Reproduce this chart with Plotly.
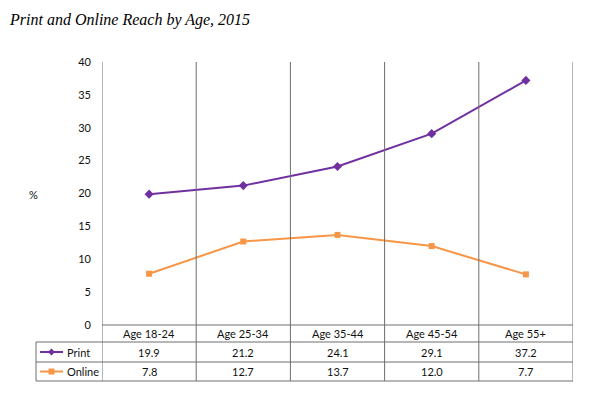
import plotly.graph_objects as go

categories = ["Age 18-24", "Age 25-34", "Age 35-44", "Age 45-54", "Age 55+"]
print_vals = [19.9, 21.2, 24.1, 29.1, 37.2]
online_vals = [7.8, 12.7, 13.7, 12.0, 7.7]
print_labels = ["19.9", "21.2", "24.1", "29.1", "37.2"]
online_labels = ["7.8", "12.7", "13.7", "12.0", "7.7"]
y_ticks = [0, 5, 10, 15, 20, 25, 30, 35, 40]

PURPLE = "#7030A0"
ORANGE = "#F79646"
GRID = "#6e6e6e"
TXT = "#111111"
FONT = "Lato"

xs = list(range(len(categories)))

fig = go.Figure()
fig.add_trace(go.Scatter(x=xs, y=print_vals, mode="lines+markers", name="Print",
                         line=dict(color=PURPLE, width=2),
                         marker=dict(symbol="diamond", size=7, color=PURPLE)))
fig.add_trace(go.Scatter(x=xs, y=online_vals, mode="lines+markers", name="Online",
                         line=dict(color=ORANGE, width=2),
                         marker=dict(symbol="square", size=6, color=ORANGE)))

# plot area: x 102..573 px, y 62..325 px
L, R, T, B = 102, 573, 62, 325
H = B - T
W = R - L

def py(p):
    return (B - p) / H

def px(p):
    return (p - L) / W

shapes = []
for k in range(len(categories) + 1):
    xv = k - 0.5
    shapes.append(dict(type="line", xref="x", yref="paper", x0=xv, x1=xv,
                       y0=py(381), y1=1, line=dict(color=GRID, width=1)))
shapes.append(dict(type="line", xref="paper", yref="paper", x0=0, x1=1,
                   y0=0, y1=0, line=dict(color=GRID, width=1)))
for yy in [342, 362, 381]:
    shapes.append(dict(type="line", xref="paper", yref="paper", x0=px(36), x1=1,
                       y0=py(yy), y1=py(yy), line=dict(color=GRID, width=1)))
shapes.append(dict(type="line", xref="paper", yref="paper", x0=px(36), x1=px(36),
                   y0=py(342), y1=py(381), line=dict(color=GRID, width=1)))

def key(yc, color, sym):
    out = [dict(type="line", xref="paper", yref="paper", x0=px(40), x1=px(63),
                y0=py(yc), y1=py(yc), line=dict(color=color, width=2))]
    cx = 51.5
    if sym == "diamond":
        s = 3.5
        pts = [(cx - s, yc), (cx, yc - s), (cx + s, yc), (cx, yc + s)]
    else:
        s = 3
        pts = [(cx - s, yc - s), (cx + s, yc - s), (cx + s, yc + s), (cx - s, yc + s)]
    path = "M " + " L ".join(f"{px(a):.5f},{py(b):.5f}" for a, b in pts) + " Z"
    out.append(dict(type="path", xref="paper", yref="paper", path=path,
                    fillcolor=color, line=dict(color=color, width=0)))
    return out

shapes += key(352, PURPLE, "diamond")
shapes += key(371.5, ORANGE, "square")

tf = dict(family=FONT, size=11, color=TXT)
annotations = []
for i, c in enumerate(categories):
    annotations.append(dict(x=i, y=py(333.5), xref="x", yref="paper", text=c,
                            xanchor="center", yanchor="middle", showarrow=False, font=tf))
    annotations.append(dict(x=i, y=py(352), xref="x", yref="paper", text=print_labels[i],
                            xanchor="center", yanchor="middle", showarrow=False, font=tf))
    annotations.append(dict(x=i, y=py(371.5), xref="x", yref="paper", text=online_labels[i],
                            xanchor="center", yanchor="middle", showarrow=False, font=tf))
annotations.append(dict(x=px(65), y=py(352), xref="paper", yref="paper", text="Print",
                        xanchor="left", yanchor="middle", showarrow=False, font=tf))
annotations.append(dict(x=px(65), y=py(371.5), xref="paper", yref="paper", text="Online",
                        xanchor="left", yanchor="middle", showarrow=False, font=tf))
annotations.append(dict(x=px(33), y=py(194), xref="paper", yref="paper", text="%",
                        xanchor="center", yanchor="middle", showarrow=False, font=tf))

fig.update_layout(
    width=600, height=394,
    margin=dict(l=L, r=600 - R, t=T, b=394 - B, pad=0),
    paper_bgcolor="white", plot_bgcolor="white",
    showlegend=False,
    title=dict(text="<i>Print and Online Reach by Age, 2015</i>", x=10 / 600, xanchor="left",
               y=1 - 19 / 394, yanchor="middle",
               font=dict(family="Liberation Serif", size=16, color="#000000")),
    xaxis=dict(range=[-0.5, len(categories) - 0.5], showgrid=False, zeroline=False,
               showticklabels=False, showline=False, fixedrange=True),
    yaxis=dict(range=[0, 40], tickvals=y_ticks, showgrid=False, zeroline=False,
               showline=False, ticks="", ticklabelstandoff=10,
               tickfont=tf),
    shapes=shapes, annotations=annotations,
)

fig.write_html("out.html", config={"displayModeBar": False},
               post_script="document.body.style.margin='0';")
